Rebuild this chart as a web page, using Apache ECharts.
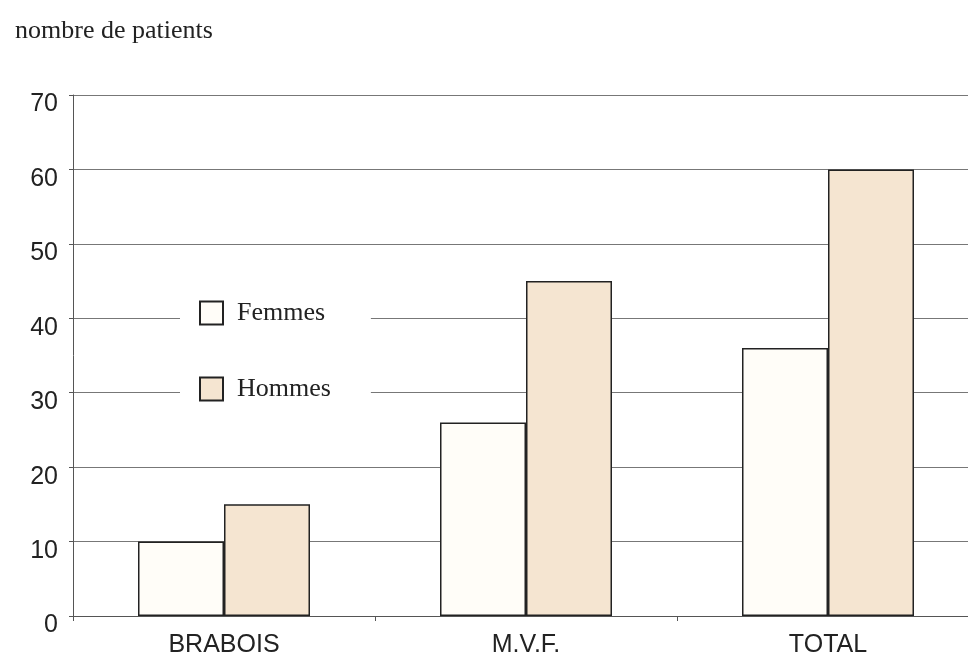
<!DOCTYPE html>
<html>
<head>
<meta charset="utf-8">
<script src="https://cdn.jsdelivr.net/npm/echarts@6/dist/echarts.min.js"></script>
<style>
    html, body { margin: 0; padding: 0; background: #fff; overflow: hidden; }
    /* le graphique original est coupé à droite : le conteneur dépasse la fenêtre */
    #chart { width: 980px; height: 658px; }
</style>
</head>
<body>
<div id="chart"></div>
<script>
    // données
    var categories = ['BRABOIS', 'M.V.F.', 'TOTAL'];
    var femmes = [10, 26, 36];
    var hommes = [15, 45, 60];
    var yTicks = { min: 0, max: 70, interval: 10 };

    var chart = echarts.init(document.getElementById('chart'));
    var option = {
        backgroundColor: '#fff',
        animation: false,
        title: {
            text: 'nombre de patients',
            left: 10,
            top: 13,
            textStyle: {
                fontFamily: 'Liberation Serif',
                fontWeight: 'normal',
                fontSize: 26,
                color: '#222'
            }
        },
        legend: {
            orient: 'vertical',
            icon: 'rect',
            left: 180,
            top: 292,
            padding: [8, 40, 8, 19],
            itemGap: 50,
            itemWidth: 23,
            itemHeight: 23,
            backgroundColor: '#fff',
            textStyle: {
                fontFamily: 'Liberation Serif',
                fontSize: 26,
                color: '#222',
                padding: [5, 0, 0, 9]
            },
            data: ['Femmes', 'Hommes']
        },
        grid: {
            left: 73,
            top: 95,
            right: 1,
            height: 523
        },
        xAxis: {
            type: 'category',
            data: categories,
            axisLine: { lineStyle: { color: '#555', width: 1 } },
            axisTick: { show: true, length: 5, lineStyle: { color: '#555' } },
            axisLabel: {
                margin: 17,
                fontFamily: 'Liberation Sans',
                fontSize: 25,
                color: '#222'
            }
        },
        yAxis: {
            type: 'value',
            min: yTicks.min,
            max: yTicks.max,
            interval: yTicks.interval,
            axisLine: { show: true, lineStyle: { color: '#555', width: 1 } },
            axisTick: { show: true, length: 4, lineStyle: { color: '#555' } },
            splitLine: { lineStyle: { color: '#777', width: 1 } },
            axisLabel: {
                margin: 15,
                formatter: '{v|{value}}',
                rich: {
                    v: {
                        padding: [19, 0, 0, 0],
                        fontFamily: 'Liberation Sans',
                        fontSize: 25,
                        color: '#222'
                    }
                }
            }
        },
        series: [
            {
                name: 'Femmes',
                type: 'bar',
                data: femmes,
                barWidth: 86,
                barGap: '0%',
                itemStyle: { color: '#fffdf8', borderColor: '#222', borderWidth: 1.5 }
            },
            {
                name: 'Hommes',
                type: 'bar',
                data: hommes,
                barWidth: 86,
                barGap: '0%',
                itemStyle: { color: '#f5e5d1', borderColor: '#222', borderWidth: 1.5 }
            }
        ]
    };
    chart.setOption(option);
</script>
</body>
</html>
